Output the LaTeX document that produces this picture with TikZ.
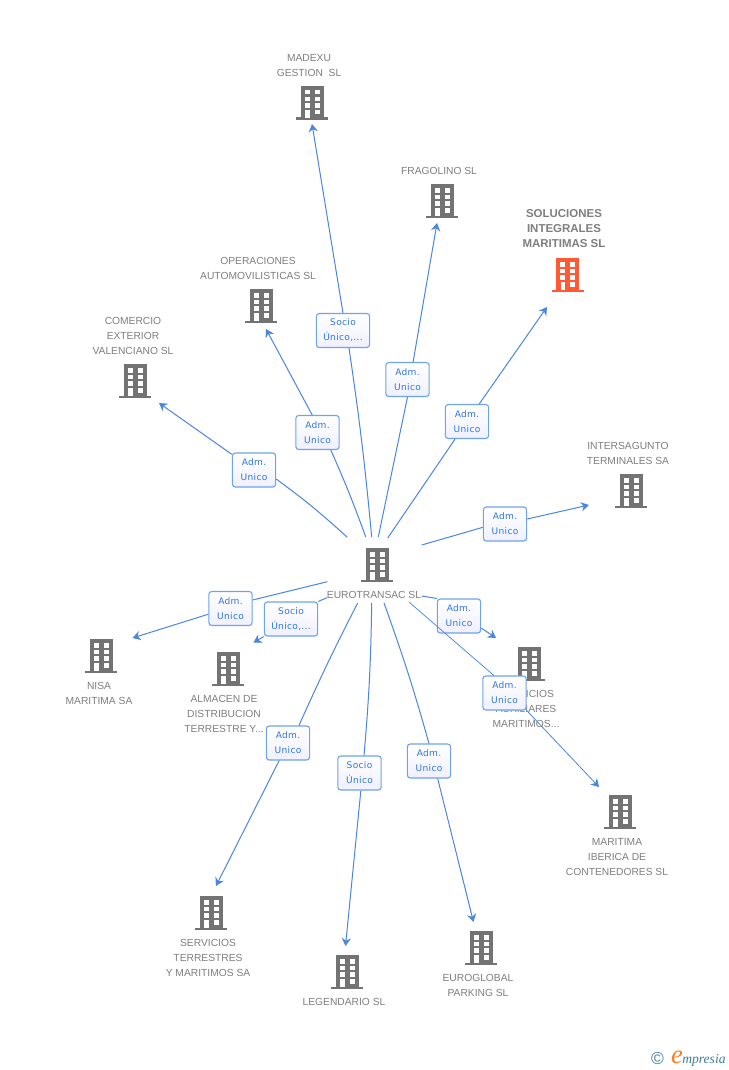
\documentclass[tikz,border=0pt]{standalone}
\usepackage{fontspec}
\usetikzlibrary{arrows.meta}
\setmainfont{Liberation Sans}
\newfontfamily\boxfont[LetterSpace=3.5]{DejaVu Sans}
\newfontfamily\logofont{Liberation Serif}
\definecolor{iconGray}{HTML}{737373}
\definecolor{iconRed}{HTML}{FF5A33}
\definecolor{labelGray}{HTML}{7F7F7F}
\definecolor{connBlue}{HTML}{4A86E0}
\definecolor{boxBlue}{HTML}{6FA3EA}
\definecolor{boxText}{HTML}{2F78DC}
\definecolor{logoTeal}{HTML}{3E7F96}
\definecolor{logoOrange}{HTML}{F58220}
\tikzset{
  pics/bld/.style={code={
    \fill[#1] (-11.5,0) rectangle (11.5,32);
    \fill[#1] (-16,31.5) rectangle (16,34);
    \foreach \yy in {4,10.7,17.3}{
      \fill[white] (-7.5,\yy) rectangle (-2.5,\yy+4.5);
      \fill[white] (2.5,\yy) rectangle (7.5,\yy+4.5);
    }
    \fill[white] (2.5,24) rectangle (7.5,28.5);
    \fill[white] (-7,24) rectangle (-2.5,32);
  }},
  pics/bld/.default=iconGray,
  lab/.style={text=labelGray,align=center,inner sep=0pt,font=\fontsize{7.7}{11.25}\selectfont},
  conn/.style={draw=connBlue,line width=0.75pt},
  arr/.style={conn,-{Stealth[length=6pt,width=7pt,inset=2pt]}},
  thinconn/.style={conn,line width=0.55pt},
  thinarr/.style={arr,line width=0.6pt},
  tag/.style={draw=boxBlue,line width=0.85pt,rounded corners=2.2pt,top color=white,bottom color=white!94!blue,
    minimum width=32.5pt,minimum height=25.5pt,inner sep=0pt,align=center,text=boxText,
    font=\boxfont\fontsize{6.8}{11.25}\selectfont},
  wtag/.style={tag,minimum width=40pt},
}
\begin{document}
\begin{tikzpicture}[x=0.75pt,y=-0.75pt]
\useasboundingbox (0,0) rectangle (728,1070);
\fill[white] (0,0) rectangle (728,1070);

% buildings
\pic (bMadexu) at (312,86) {bld};
\pic (bFrag) at (442,184) {bld};
\pic (bSol) at (567.5,258) {bld=iconRed};
\pic (bOper) at (261,289) {bld};
\pic (bCom) at (135,364) {bld};
\pic (bInter) at (631,474) {bld};
\pic (bEuro) at (377,548) {bld};
\pic (bNisa) at (101,639) {bld};
\pic (bAlm) at (228,652) {bld};
\pic (bAux) at (529,647) {bld};
\pic (bMar) at (620,795) {bld};
\pic (bTer) at (211,896) {bld};
\pic (bLeg) at (347,955) {bld};
\pic (bGlob) at (481,931) {bld};

% company names
\node[lab] (tMadexu) at (309,65.2) {MADEXU\\GESTION\ \ SL};
\node[lab] (tFrag) at (439,170.7) {FRAGOLINO SL};
\node[lab,font=\bfseries\fontsize{8.6}{11.25}\selectfont] (tSol) at (564,228.5) {SOLUCIONES\\INTEGRALES\\MARITIMAS SL};
\node[lab] (tOper) at (258,268.2) {OPERACIONES\\AUTOMOVILISTICAS SL};
\node[lab] (tCom) at (133,335.7) {COMERCIO\\EXTERIOR\\VALENCIANO SL};
\node[lab] (tInter) at (628,453.2) {INTERSAGUNTO\\TERMINALES SA};
\node[lab] (tEuro) at (374,594.7) {EUROTRANSAC SL};
\node[lab] (tNisa) at (99,693.2) {NISA\\MARITIMA SA};
\node[lab] (tAlm) at (224,713.7) {ALMACEN DE\\DISTRIBUCION\\TERRESTRE Y...};
\node[lab] (tAux) at (526,708.7) {SERVICIOS\\AUXILIARES\\MARITIMOS...};
\node[lab] (tMar) at (617,856.7) {MARITIMA\\IBERICA DE\\CONTENEDORES SL};
\node[lab] (tTer) at (208,957.7) {SERVICIOS\\TERRESTRES\\Y MARITIMOS SA};
\node[lab] (tLeg) at (344,1001.7) {LEGENDARIO SL};
\node[lab] (tGlob) at (478,985.2) {EUROGLOBAL\\PARKING SL};

% connector free ends
\coordinate (s1) at (371.7,537);  \coordinate (e1) at (312,124);
\coordinate (s2) at (378.3,537);  \coordinate (e2) at (437,223);
\coordinate (s3) at (387.7,538);  \coordinate (e3) at (547,307);
\coordinate (s4) at (365.7,537);  \coordinate (e4) at (266,329);
\coordinate (s5) at (347.3,537.3);\coordinate (e5) at (159,403);
\coordinate (s6) at (421.7,545);  \coordinate (e6) at (589,505);
\coordinate (s7) at (327.3,581.7);\coordinate (e7) at (132.5,638);
\coordinate (s8) at (327,597.7);  \coordinate (e8) at (253.5,642.5);
\coordinate (s9) at (357.7,603);  \coordinate (e9) at (216,886);
\coordinate (s10) at (371.7,603); \coordinate (e10) at (345.5,946);
\coordinate (s11) at (384,603);   \coordinate (e11) at (473.5,922);
\coordinate (s12) at (421.7,596); \coordinate (e12) at (496,638);
\coordinate (s13) at (409.3,602.3);\coordinate (e13) at (599,787);

% tags and connectors
\node[tag] (l12) at (459,616) {Adm.\\Unico};
\draw[conn] (s12) -- (l12.north west);
\draw[arr] ([yshift=-9pt]l12.east) -- (e12);

\node[wtag] (l1) at (343,330.5) {Socio\\Único,...};
\draw[conn] (s1) to[bend right=1.5] ([xshift=4.5pt]l1.south);
\draw[arr] (l1.north) -- (e1);

\node[tag] (l2) at (407.5,379.5) {Adm.\\Unico};
\draw[conn] (s2) -- (l2.south);
\draw[arr] ([xshift=4.2pt]l2.north) -- (e2);

\node[tag] (l3) at (467,421.5) {Adm.\\Unico};
\draw[conn] (s3) -- (l3);
\draw[arr] (l3) -- (e3);

\node[tag] (l4) at (317.5,432.5) {Adm.\\Unico};
\draw[conn] (s4) to[bend right=2] ([xshift=10pt]l4.south);
\draw[arr] ([xshift=-4pt]l4.north) -- (e4);

\node[tag] (l5) at (254,470) {Adm.\\Unico};
\draw[conn] (s5) to[bend right=3] ([yshift=-6.75pt]l5.east);
\draw[arr] (l5) -- (e5);

\node[tag] (l6) at (505,524) {Adm.\\Unico};
\draw[conn] (s6) -- ([yshift=-2.5pt]l6.west);
\draw[arr] (l6) -- (e6);

\node[tag] (l7) at (230.5,608.5) {Adm.\\Unico};
\draw[conn] (s7) -- ([yshift=6.4pt]l7.east);
\draw[arr] ([yshift=-4.3pt]l7.west) -- (e7);

\node[wtag] (l8) at (291,619) {Socio\\Único,...};
\draw[conn] (s8) -- (l8.north east);
\draw[arr] (l8.south west) -- (e8);

\node[tag] (l9) at (288,743) {Adm.\\Unico};
\draw[conn] (s9) to[bend right=1.5] ([xshift=8.25pt]l9.north);
\draw[arr] (l9) -- (e9);

\node[tag] (l10) at (359.5,773) {Socio\\Único};
\draw[conn] (s10) to[bend left=2] ([xshift=3.4pt]l10.north);
\draw[arr] ([xshift=1pt]l10.south) -- (e10);

\node[tag] (l11) at (429,761) {Adm.\\Unico};
\draw[conn] (s11) to[bend left=2] (l11.north);
\draw[arr] ([xshift=6.5pt]l11.south) -- (e11);

\node[tag] (l13) at (504.5,693) {Adm.\\Unico};
\draw[thinconn] (s13) -- ([xshift=-8pt]l13.north);
\draw[thinarr] (l13.south east) -- (e13);

% logo
\node[inner sep=0pt,text=logoTeal,font=\fontsize{13}{14}\selectfont] (cLogo) at (657.5,1059) {©};
\node[inner sep=0pt,text=logoOrange,font=\logofont\itshape\fontsize{20}{22}\selectfont] (eLogo) at (677,1057) {e};
\node[inner sep=0pt,anchor=west,text=logoTeal,font=\logofont\itshape\fontsize{10.2}{11}\selectfont] (wLogo) at (682,1060) {mpresia};
\end{tikzpicture}
\end{document}
